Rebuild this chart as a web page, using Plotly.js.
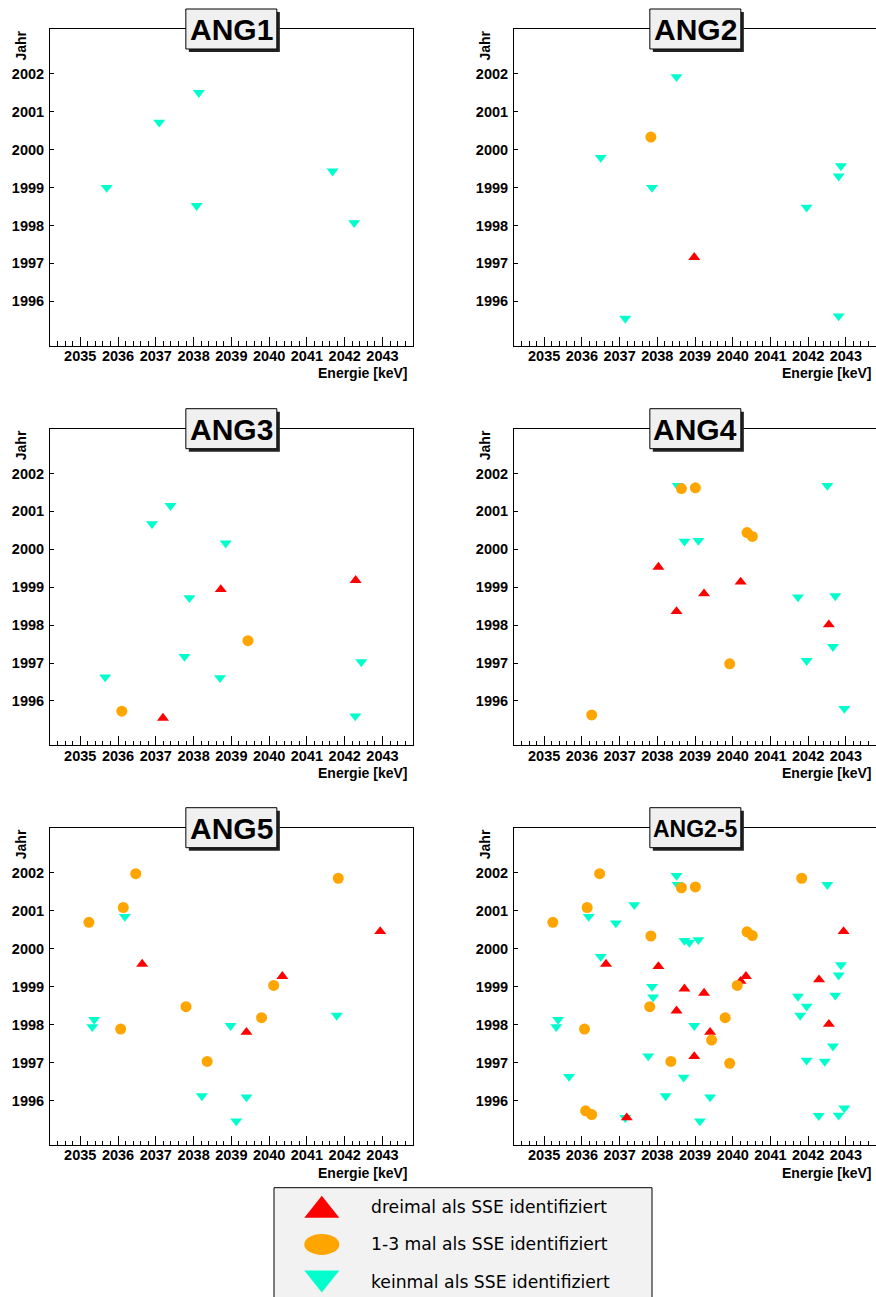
<!DOCTYPE html>
<html>
<head>
<meta charset="utf-8">
<script src="https://cdn.plot.ly/plotly-3.0.1.min.js"></script>
<style>html,body{margin:0;padding:0;background:#fff;}#chart{width:876px;height:1297px;}</style>
</head>
<body>
<div id="chart"></div>
<script>
// ---------------- data ----------------
const panelNames = ["ANG1", "ANG2", "ANG3", "ANG4", "ANG5", "ANG2-5"];
const energyTicks = [2035, 2036, 2037, 2038, 2039, 2040, 2041, 2042, 2043];
const yearTicks = [1996, 1997, 1998, 1999, 2000, 2001, 2002];
const xTitle = "Energie [keV]";
const yTitle = "Jahr";
const legendLabels = ["dreimal als SSE identifiziert", "1-3 mal als SSE identifiziert", "keinmal als SSE identifiziert"];

// ANG1
const ANG1_dreimal_E = [];
const ANG1_dreimal_J = [];
const ANG1_mal13_E = [];
const ANG1_mal13_J = [];
const ANG1_keinmal_E = [2035.70, 2037.09, 2038.14, 2038.08, 2041.68, 2042.25];
const ANG1_keinmal_J = [1999.00, 2000.72, 2001.50, 1998.52, 1999.43, 1998.07];

// ANG2
const ANG2_dreimal_E = [2038.98];
const ANG2_dreimal_J = [1997.16];
const ANG2_mal13_E = [2037.83];
const ANG2_mal13_J = [2000.33];
const ANG2_keinmal_E = [2038.51, 2036.50, 2037.86, 2042.87, 2042.81, 2041.96, 2037.15, 2042.81];
const ANG2_keinmal_J = [2001.92, 1999.79, 1999.00, 1999.57, 1999.30, 1998.48, 1995.55, 1995.61];

// ANG3
const ANG3_dreimal_E = [2042.29, 2038.72, 2037.19];
const ANG3_dreimal_J = [1999.18, 1998.94, 1995.55];
const ANG3_mal13_E = [2039.44, 2036.10];
const ANG3_mal13_J = [1997.59, 1995.73];
const ANG3_keinmal_E = [2037.39, 2036.90, 2038.85, 2037.89, 2037.76, 2042.44, 2035.66, 2038.70, 2042.28];
const ANG3_keinmal_J = [2001.15, 2000.67, 2000.16, 1998.72, 1997.17, 1997.03, 1996.63, 1996.61, 1995.60];

// ANG4
const ANG4_dreimal_E = [2038.03, 2040.21, 2039.24, 2038.51, 2042.55];
const ANG4_dreimal_J = [1999.53, 1999.14, 1998.83, 1998.36, 1998.01];
const ANG4_mal13_E = [2038.64, 2039.01, 2040.38, 2040.52, 2039.92, 2036.26];
const ANG4_mal13_J = [2001.60, 2001.62, 2000.44, 2000.34, 1996.98, 1995.63];
const ANG4_keinmal_E = [2038.54, 2042.51, 2038.72, 2039.09, 2041.73, 2042.72, 2042.66, 2041.96, 2042.96];
const ANG4_keinmal_J = [2001.68, 2001.68, 2000.21, 2000.23, 1998.74, 1998.77, 1997.43, 1997.06, 1995.80];

// ANG5
const ANG5_dreimal_E = [2042.94, 2036.64, 2040.35, 2039.40];
const ANG5_dreimal_J = [2000.45, 1999.59, 1999.27, 1997.80];
const ANG5_mal13_E = [2036.47, 2041.83, 2036.14, 2035.23, 2040.12, 2037.80, 2039.80, 2036.07, 2038.36];
const ANG5_mal13_J = [2001.97, 2001.85, 2001.08, 2000.69, 1999.03, 1998.47, 1998.18, 1997.88, 1997.03];
const ANG5_keinmal_E = [2036.18, 2041.79, 2035.37, 2035.32, 2038.98, 2038.22, 2039.40, 2039.13];
const ANG5_keinmal_J = [2000.84, 1998.24, 1998.13, 1997.94, 1997.97, 1996.12, 1996.09, 1995.46];

// ANG2-5 is the union of ANG2..ANG5
const ANG25_dreimal_E = [].concat(ANG2_dreimal_E, ANG3_dreimal_E, ANG4_dreimal_E, ANG5_dreimal_E);
const ANG25_dreimal_J = [].concat(ANG2_dreimal_J, ANG3_dreimal_J, ANG4_dreimal_J, ANG5_dreimal_J);
const ANG25_mal13_E = [].concat(ANG2_mal13_E, ANG3_mal13_E, ANG4_mal13_E, ANG5_mal13_E);
const ANG25_mal13_J = [].concat(ANG2_mal13_J, ANG3_mal13_J, ANG4_mal13_J, ANG5_mal13_J);
const ANG25_keinmal_E = [].concat(ANG2_keinmal_E, ANG3_keinmal_E, ANG4_keinmal_E, ANG5_keinmal_E);
const ANG25_keinmal_J = [].concat(ANG2_keinmal_J, ANG3_keinmal_J, ANG4_keinmal_J, ANG5_keinmal_J);

const panelData = [
  [ANG1_dreimal_E, ANG1_dreimal_J, ANG1_mal13_E, ANG1_mal13_J, ANG1_keinmal_E, ANG1_keinmal_J],
  [ANG2_dreimal_E, ANG2_dreimal_J, ANG2_mal13_E, ANG2_mal13_J, ANG2_keinmal_E, ANG2_keinmal_J],
  [ANG3_dreimal_E, ANG3_dreimal_J, ANG3_mal13_E, ANG3_mal13_J, ANG3_keinmal_E, ANG3_keinmal_J],
  [ANG4_dreimal_E, ANG4_dreimal_J, ANG4_mal13_E, ANG4_mal13_J, ANG4_keinmal_E, ANG4_keinmal_J],
  [ANG5_dreimal_E, ANG5_dreimal_J, ANG5_mal13_E, ANG5_mal13_J, ANG5_keinmal_E, ANG5_keinmal_J],
  [ANG25_dreimal_E, ANG25_dreimal_J, ANG25_mal13_E, ANG25_mal13_J, ANG25_keinmal_E, ANG25_keinmal_J]
];

// ---------------- styling / layout ----------------
const W = 876, H = 1297;
const PX = x => x / W;
const PY = y => 1 - y / H;
const RED = "#ff0000", ORANGE = "#ffa500", CYAN = "#00ffcc";

const colLeft = [50, 514], colRight = [412.7, 876.7];
const rowTop = [29, 428.7, 827.7], rowBottom = [345.7, 745.3, 1145];
const xRange = [2034.2, 2043.8], yRange = [1994.83, 2003.18];

const tickFont = {family: "Liberation Sans, Arial, sans-serif", size: 14.5, color: "#000", weight: "bold"};

const traces = [];
const layout = {
  width: W, height: H,
  margin: {l: 0, r: 0, t: 0, b: 0},
  paper_bgcolor: "#fff", plot_bgcolor: "#fff",
  showlegend: false,
  shapes: [], annotations: []
};

panelNames.forEach((name, i) => {
  const col = i % 2, row = Math.floor(i / 2);
  const sfx = i === 0 ? "" : String(i + 1);
  const xa = "x" + sfx, ya = "y" + sfx;
  const L = colLeft[col], R = colRight[col], T = rowTop[row], B = rowBottom[row];
  layout["xaxis" + sfx] = {
    domain: [PX(L), Math.min(1, PX(R))], anchor: ya, range: xRange,
    showgrid: false, zeroline: false,
    showline: true, linecolor: "#000", linewidth: 1, mirror: true,
    tickmode: "array", tickvals: energyTicks, ticktext: energyTicks.map(String),
    ticks: "inside", ticklen: 9, tickwidth: 1, tickcolor: "#000",
    minor: {tickmode: "linear", tick0: 2035, dtick: 0.2, ticks: "inside", ticklen: 4.5, tickwidth: 1, tickcolor: "#000", showgrid: false},
    tickfont: tickFont, ticklabelstandoff: -3
  };
  layout["yaxis" + sfx] = {
    domain: [PY(B), PY(T)], anchor: xa, range: yRange,
    showgrid: false, zeroline: false,
    showline: true, linecolor: "#000", linewidth: 1, mirror: true,
    tickmode: "array", tickvals: yearTicks, ticktext: yearTicks.map(String),
    ticks: "inside", ticklen: 4, tickwidth: 1, tickcolor: "#000",
    tickfont: tickFont, ticklabelstandoff: 2
  };
  const d = panelData[i];
  traces.push({type: "scatter", mode: "markers", x: d[4], y: d[5], xaxis: xa, yaxis: ya,
    marker: {symbol: "triangle-down", size: 10.5, color: CYAN}, hoverinfo: "skip"});
  traces.push({type: "scatter", mode: "markers", x: d[0], y: d[1], xaxis: xa, yaxis: ya,
    marker: {symbol: "triangle-up", size: 10.5, color: RED}, hoverinfo: "skip"});
  traces.push({type: "scatter", mode: "markers", x: d[2], y: d[3], xaxis: xa, yaxis: ya,
    marker: {symbol: "circle", size: 11, color: ORANGE}, hoverinfo: "skip"});

  // title box with shadow
  const cx = (L + R) / 2, bw = 91, bh = 40;
  layout.shapes.push({type: "rect", xref: "paper", yref: "paper",
    x0: PX(cx - bw / 2 + 3), x1: PX(cx + bw / 2 + 3), y0: PY(T + bh / 2 + 3), y1: PY(T - bh / 2 + 3),
    fillcolor: "#222", line: {width: 0}, layer: "above"});
  layout.shapes.push({type: "rect", xref: "paper", yref: "paper",
    x0: PX(cx - bw / 2), x1: PX(cx + bw / 2), y0: PY(T + bh / 2), y1: PY(T - bh / 2),
    fillcolor: "#f0f0f0", line: {color: "#000", width: 1}, layer: "above"});
  layout.annotations.push({xref: "paper", yref: "paper", x: PX(cx), y: PY(T + 1),
    xanchor: "center", yanchor: "middle", showarrow: false, text: name,
    font: {family: "Liberation Sans, Arial, sans-serif", size: name.length > 4 ? 23 : 30, color: "#000", weight: "bold"}});
  // axis titles
  layout.annotations.push({xref: "paper", yref: "paper", x: PX(L - 29.5), y: PY(T + 17),
    xanchor: "center", yanchor: "middle", showarrow: false, text: yTitle, textangle: -90,
    font: {family: "Liberation Sans, Arial, sans-serif", size: 14, color: "#000", weight: "bold"}});
  layout.annotations.push({xref: "paper", yref: "paper", x: PX(R - 3.4), y: PY(B + 27.5),
    xanchor: "right", yanchor: "middle", showarrow: false, text: xTitle,
    font: {family: "Liberation Sans, Arial, sans-serif", size: 14, color: "#000", weight: "bold"}});
});

// legend box
layout.shapes.push({type: "rect", xref: "paper", yref: "paper",
  x0: PX(274), x1: PX(652), y0: PY(1300), y1: PY(1187.7),
  fillcolor: "#f2f2f2", line: {color: "#000", width: 1}, layer: "above"});
const lx = 321.8, lhw = 17.5;
const legendY = [1206.7, 1244.4, 1281.5];
// triangle up
layout.shapes.push({type: "path", xref: "paper", yref: "paper", layer: "above",
  path: `M ${PX(lx - lhw)} ${PY(legendY[0] + 11)} L ${PX(lx + lhw)} ${PY(legendY[0] + 11)} L ${PX(lx)} ${PY(legendY[0] - 11)} Z`,
  fillcolor: RED, line: {width: 0}});
// ellipse
layout.shapes.push({type: "circle", xref: "paper", yref: "paper", layer: "above",
  x0: PX(lx - lhw), x1: PX(lx + lhw), y0: PY(legendY[1] + 10.5), y1: PY(legendY[1] - 10.5),
  fillcolor: ORANGE, line: {width: 0}});
// triangle down
layout.shapes.push({type: "path", xref: "paper", yref: "paper", layer: "above",
  path: `M ${PX(lx - lhw)} ${PY(legendY[2] - 11)} L ${PX(lx + lhw)} ${PY(legendY[2] - 11)} L ${PX(lx)} ${PY(legendY[2] + 11)} Z`,
  fillcolor: CYAN, line: {width: 0}});
legendLabels.forEach((t, k) => {
  layout.annotations.push({xref: "paper", yref: "paper", x: PX(369), y: PY(legendY[k]),
    xanchor: "left", yanchor: "middle", showarrow: false, text: t,
    font: {family: "DejaVu Sans, sans-serif", size: 17.2, color: "#000"}});
});

Plotly.newPlot("chart", traces, layout, {staticPlot: true, displayModeBar: false});
</script>
</body>
</html>
